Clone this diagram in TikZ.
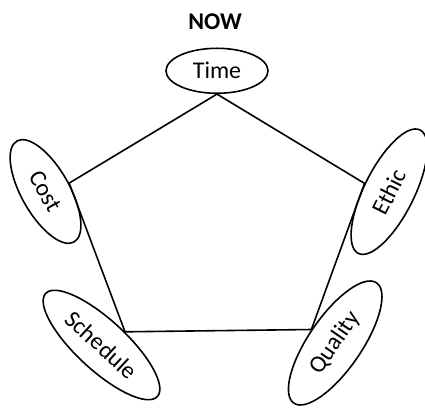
\documentclass[tikz,border=0pt]{standalone}
\usepackage{fontspec}
\setmainfont{Carlito}
\usetikzlibrary{shapes.geometric}

\begin{document}
\begin{tikzpicture}[x=1pt,y=1pt,line width=1.6pt,
    every node/.style={font=\fontsize{24}{28}\selectfont},
    aim/.style={ellipse,draw,inner sep=0pt}]
  \useasboundingbox (0,0) rectangle (425,409);
  \node (now) at (215,387.5) {\bfseries NOW};
  \node[aim,minimum width=102pt,minimum height=45pt] (time) at (217,338.2) {Time};
  \node[aim,minimum width=116pt,minimum height=48pt,rotate=-60.5] (cost) at (45.5,217.5) {Cost};
  \node[aim,minimum width=138pt,minimum height=50pt,rotate=63.4] (ethic) at (389.2,217.3) {Ethic};
  \node[aim,minimum width=152pt,minimum height=50pt,rotate=-42.7] (schedule) at (101.5,64) {Schedule};
  \node[aim,minimum width=146pt,minimum height=53pt,rotate=55.5] (quality) at (335.2,66) {Quality};
  \path
    (time.south) edge (ethic.98)
    (ethic.98) edge (quality.95)
    (quality.95) edge (schedule.72)
    (schedule.72) edge (cost.80)
    (cost.80) edge (time.south);
\end{tikzpicture}
\end{document}
